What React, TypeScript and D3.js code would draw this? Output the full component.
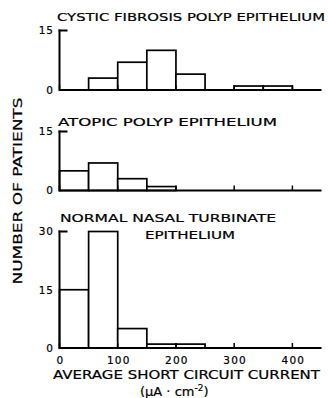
import React from 'react';
import * as d3 from 'd3';

// bins are 50 units wide, starting at these values
const binStarts = [0, 50, 100, 150, 200, 250, 300, 350];
const cfCounts = [0, 3, 7, 10, 4, 0, 1, 1];
const atopicCounts = [5, 7, 3, 1, 0, 0, 0, 0];
const normalCounts = [15, 30, 5, 1, 1, 0, 0, 0];
const xTicks = [0, 100, 200, 300, 400];

const BIN = 50;
const font = '"DejaVu Sans", "Liberation Sans", sans-serif';
const ink = { fill: 'black', stroke: 'black', strokeWidth: 0.2 };

const x = d3.scaleLinear().domain([0, 450]).range([59.5, 321.5]);

const panels = [
  {
    title: ['CYSTIC FIBROSIS POLYP EPITHELIUM'],
    counts: cfCounts,
    y: d3.scaleLinear().domain([0, 15]).range([90, 30.5]),
    yTicks: [0, 15],
  },
  {
    title: ['ATOPIC POLYP EPITHELIUM'],
    counts: atopicCounts,
    y: d3.scaleLinear().domain([0, 15]).range([190.5, 131.5]),
    yTicks: [0, 15],
  },
  {
    title: ['NORMAL NASAL TURBINATE', 'EPITHELIUM'],
    counts: normalCounts,
    y: d3.scaleLinear().domain([0, 30]).range([348, 231.5]),
    yTicks: [0, 15, 30],
  },
];

const titleSpots = [
  [{ x: 57, y: 21, len: 268 }],
  [{ x: 58, y: 125.5, len: 219 }],
  [{ x: 60, y: 222, len: 216 }, { x: 145, y: 239, len: 90 }],
];

const Panel = ({ p, i }) => {
  const y = p.y;
  const y0 = y(0);
  const top = y(d3.max(p.yTicks));
  return (
    <g>
      {p.title.map((t, k) => (
        <text key={k} x={titleSpots[i][k].x} y={titleSpots[i][k].y}
          textLength={titleSpots[i][k].len} lengthAdjust="spacingAndGlyphs"
          fontSize={11} fontFamily={font} {...ink}>{t}</text>
      ))}
      {/* bars */}
      {p.counts.map((c, k) => c > 0 && (
        <rect key={k} x={x(binStarts[k])} y={y(c)}
          width={x(binStarts[k] + BIN) - x(binStarts[k])} height={y0 - y(c)}
          fill="white" stroke="black" strokeWidth={1.7} />
      ))}
      {/* x axis */}
      <line x1={x(0)} x2={321.5} y1={y0} y2={y0} stroke="black" strokeWidth={2} />
      {xTicks.map(t => (
        <line key={t} x1={x(t)} x2={x(t)} y1={y0} y2={y0 - 5} stroke="black" strokeWidth={1.5} />
      ))}
      {/* y axis */}
      <line x1={x(0)} x2={x(0)} y1={y0 + 1} y2={top - 1} stroke="black" strokeWidth={2} />
      <line x1={x(0) - 1} x2={x(0) + 8} y1={top} y2={top} stroke="black" strokeWidth={2} />
      {p.yTicks.map(t => (
        <text key={t} x={54} y={y(t) + 3.8} textAnchor="end" fontSize={10.5} letterSpacing={1}
          fontFamily={font} {...ink}>{t}</text>
      ))}
    </g>
  );
};

export default function App() {
  return (
    <svg width={328} height={398} style={{ position: 'absolute', left: 0, top: 0, background: 'white' }}>
      {panels.map((p, i) => <Panel key={i} p={p} i={i} />)}
      {xTicks.map(t => (
        <text key={t} x={x(t) + 1} y={363.5} textAnchor="middle" fontSize={10.5} letterSpacing={1.2}
          fontFamily={font} {...ink}>{t}</text>
      ))}
      <text x={53} y={378.5} textLength={267} lengthAdjust="spacingAndGlyphs"
        fontSize={11.5} fontFamily={font} {...ink}>AVERAGE SHORT CIRCUIT CURRENT</text>
      <text x={140} y={395.5} fontSize={13} fontFamily={font} {...ink}>
        (µA · cm<tspan dy={-5} fontSize={9}>-2</tspan><tspan dy={5}>)</tspan>
      </text>
      <text transform="translate(22,191) rotate(-90)" textAnchor="middle" textLength={187}
        lengthAdjust="spacingAndGlyphs" fontSize={11.5} fontFamily={font} {...ink}>NUMBER OF PATIENTS</text>
    </svg>
  );
}
